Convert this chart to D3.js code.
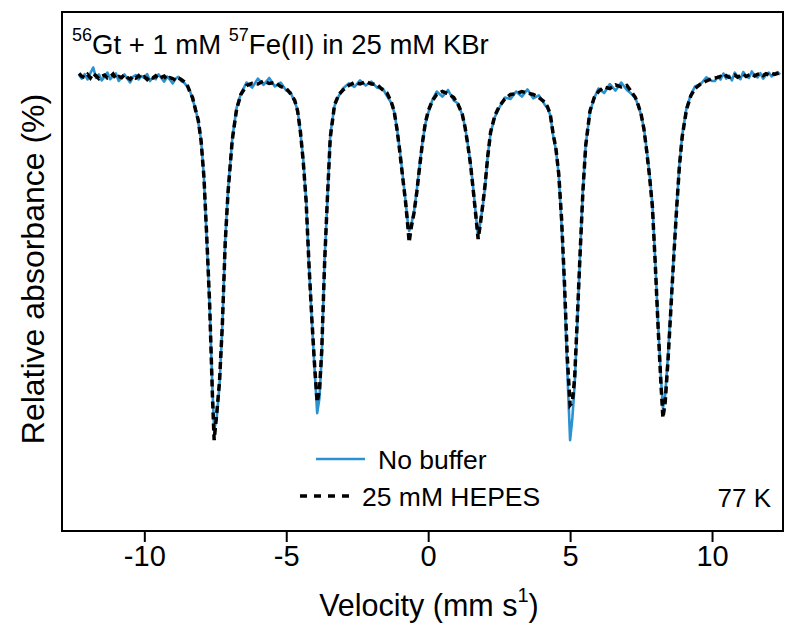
<!DOCTYPE html>
<html>
<head>
<meta charset="utf-8">
<script src="https://cdn.jsdelivr.net/npm/d3@7"></script>
<style>
  body { margin: 0; background: #fff; }
  svg text { font-family: "Liberation Sans", Arial, sans-serif; fill: #000; }
</style>
</head>
<body>
<div id="chart-mount"></div>
<script>
var WIDTH = 786;
var HEIGHT = 625;
var FRAME = { left: 62, right: 783, top: 12, bottom: 531 };
var BLUE = '#2a92d0';

// velocity channels (mm/s)
var velocity = [
  -12.3, -12.2, -12.1, -12.0, -11.9, -11.8, -11.7, -11.6, -11.5, -11.4, -11.3, -11.2, -11.1,
  -11.0, -10.9, -10.8, -10.7, -10.6, -10.5, -10.4, -10.3, -10.2, -10.1, -10.0, -9.9, -9.8,
  -9.7, -9.6, -9.5, -9.4, -9.3, -9.2, -9.1, -9.0, -8.9, -8.8, -8.7, -8.6,
  // line 1
  -8.5, -8.4, -8.3, -8.2, -8.1, -8.0, -7.9, -7.8, -7.7, -7.6, -7.54, -7.45, -7.35, -7.25, -7.15, -7.05, -6.9, -6.75, -6.6,
  -6.4, -6.2, -6.0, -5.8, -5.6, -5.4, -5.2, -5.0, -4.85,
  // line 2
  -4.7, -4.6, -4.5, -4.4, -4.3, -4.2, -4.1, -4.0, -3.91, -3.83, -3.75, -3.65, -3.55, -3.45, -3.3, -3.15,
  -3.0, -2.8, -2.6, -2.4, -2.2, -2.0, -1.8, -1.6, -1.45,
  // line 3
  -1.3, -1.2, -1.1, -1.0, -0.9, -0.8, -0.72, -0.67, -0.6, -0.5, -0.4, -0.3, -0.2, -0.1, 0.0, 0.15,
  0.3, 0.5, 0.7, 0.9, 1.05,
  // line 4
  1.2, 1.3, 1.4, 1.5, 1.6, 1.68, 1.76, 1.84, 1.92, 2.0, 2.1, 2.2, 2.35, 2.5,
  2.7, 2.9, 3.1, 3.3, 3.5, 3.7, 3.9, 4.1,
  // line 5
  4.2, 4.3, 4.4, 4.5, 4.6, 4.7, 4.8, 4.9, 5.0, 5.08, 5.16, 5.25, 5.35, 5.45, 5.55, 5.7, 5.85,
  6.0, 6.2, 6.4, 6.6, 6.8, 7.0, 7.15,
  // line 6
  7.3, 7.4, 7.5, 7.6, 7.7, 7.8, 7.9, 8.0, 8.1, 8.2, 8.27, 8.35, 8.45, 8.55, 8.65, 8.75, 8.85, 8.95, 9.1, 9.25, 9.4, 9.6, 9.8, 10.0,
  10.1, 10.2, 10.3, 10.4, 10.5, 10.6, 10.7, 10.8, 10.9, 11.0, 11.1, 11.2,
  11.3, 11.4, 11.5, 11.6, 11.7, 11.8, 11.9, 12.0, 12.1, 12.2, 12.3, 12.4
];

// relative absorbance (%), no buffer
var noBuffer = [
  0.00, -0.12, 0.03, -0.15, 0.06, 0.25, -0.10, 0.02, -0.18, -0.05, 0.08, -0.14, -0.03,
  0.05, -0.20, -0.08, 0.02, -0.12, -0.25, -0.06, 0.00, -0.15, -0.04, -0.10, 0.03, -0.20,
  -0.08, -0.14, 0.02, -0.10, -0.22, -0.05, -0.15, -0.28, -0.12, -0.06, -0.20, -0.25,
  -0.37, -0.5, -0.83, -1.1, -1.57, -2.17, -3.43, -5.5, -7.67, -10.5, -11.83, -11.43, -10.33, -8.33, -5.5, -3.83, -2.1, -1.1, -0.63,
  -0.25, -0.42, -0.12, -0.33, -0.1, -0.38, -0.25, -0.52, -0.58,
  -0.9, -1.17, -1.93, -2.83, -4.17, -6.33, -8.17, -9.83, -11.27, -10.77, -9.33, -6.17, -4.17, -2.0, -1.03, -0.7,
  -0.45, -0.28, -0.4, -0.18, -0.35, -0.22, -0.42, -0.45, -0.7,
  -0.93, -1.23, -1.77, -2.5, -3.33, -4.17, -4.9, -5.2, -5.0, -4.57, -3.83, -3.0, -2.23, -1.63, -1.27, -0.83,
  -0.55, -0.72, -0.5, -0.85, -0.95,
  -1.33, -1.73, -2.33, -3.0, -3.9, -4.67, -5.4, -4.9, -4.4, -3.77, -2.67, -1.93, -1.4, -1.1,
  -0.75, -0.8, -0.55, -0.72, -0.48, -0.78, -0.68, -0.98,
  -1.1, -1.33, -2.0, -2.5, -3.33, -5.0, -7.17, -9.83, -12.17, -11.43, -10.33, -8.33, -6.0, -3.83, -2.33, -1.23, -0.77,
  -0.45, -0.6, -0.3, -0.52, -0.25, -0.5, -0.62,
  -0.77, -1.03, -1.33, -1.77, -2.5, -3.33, -4.33, -6.23, -8.33, -10.1, -11.1, -10.67, -9.33, -7.67, -6.0, -4.43, -3.0, -2.0, -1.1, -0.67, -0.38, -0.3, -0.08, -0.2,
  -0.2, -0.05, -0.15, 0.05, -0.12, -0.02, -0.18, 0.08, -0.06, -0.14, 0.1, -0.04,
  -0.1, 0.12, -0.02, -0.08, 0.06, -0.12, 0.0, 0.08, -0.05, 0.04, 0.1, 0.02
];

// relative absorbance (%), 25 mM HEPES
var hepes = [
  0.05, -0.05, -0.08, 0.02, -0.10, 0.05, -0.03, -0.12, -0.04, 0.00, -0.10, -0.06, 0.03,
  -0.12, -0.05, -0.09, 0.01, -0.08, -0.14, -0.04, -0.10, -0.02, -0.12, -0.06, -0.15, -0.05,
  -0.10, -0.03, -0.13, -0.08, -0.04, -0.15, -0.09, -0.12, -0.18, -0.10, -0.15, -0.22,
  -0.3, -0.55, -0.75, -1.15, -1.5, -2.2, -3.4, -5.4, -7.6, -10.7, -12.17, -11.3, -10.2, -8.3, -5.6, -3.9, -2.15, -1.15, -0.65,
  -0.35, -0.28, -0.3, -0.2, -0.28, -0.25, -0.38, -0.45, -0.62,
  -0.85, -1.2, -1.9, -2.9, -4.2, -6.3, -8.1, -9.7, -10.9, -10.5, -9.2, -6.3, -4.1, -2.1, -1.0, -0.65,
  -0.5, -0.35, -0.25, -0.3, -0.22, -0.3, -0.32, -0.5, -0.6,
  -0.9, -1.2, -1.8, -2.55, -3.4, -4.2, -5.0, -5.57, -5.1, -4.6, -3.9, -3.05, -2.25, -1.6, -1.2, -0.85,
  -0.65, -0.55, -0.62, -0.75, -0.98,
  -1.3, -1.75, -2.35, -3.05, -3.95, -4.7, -5.47, -4.95, -4.35, -3.7, -2.7, -1.9, -1.35, -1.05,
  -0.8, -0.65, -0.62, -0.55, -0.6, -0.65, -0.75, -0.9,
  -1.05, -1.3, -1.95, -2.45, -3.3, -4.8, -6.9, -9.4, -11.0, -10.9, -10.1, -8.2, -6.0, -3.9, -2.35, -1.2, -0.75,
  -0.55, -0.4, -0.45, -0.33, -0.4, -0.35, -0.55,
  -0.75, -1.0, -1.3, -1.8, -2.55, -3.4, -4.4, -6.3, -8.4, -10.3, -11.43, -10.9, -9.5, -7.8, -6.1, -4.5, -3.05, -2.05, -1.15, -0.7, -0.45, -0.3, -0.2, -0.12,
  -0.1, -0.08, -0.05, -0.1, -0.02, -0.08, -0.04, 0.0, -0.07, -0.02, 0.03, -0.05,
  0.0, 0.04, -0.03, 0.02, 0.05, -0.02, 0.04, 0.0, 0.06, 0.02, 0.05, 0.07
];

var xTicks = [-10, -5, 0, 5, 10];
var xDomain = [-12.9, 12.5];
var yDomain = [-15.2, 2.1];

var $svg = d3.select('#chart-mount').append('svg')
  .attr('width', WIDTH)
  .attr('height', HEIGHT);

var x = d3.scaleLinear().domain(xDomain).range([FRAME.left, FRAME.right]);
var y = d3.scaleLinear().domain(yDomain).range([FRAME.bottom, FRAME.top]);

var line = d3.line()
  .x(function (d) { return x(d[0]); })
  .y(function (d) { return y(d[1]); });

function seriesPoints (values) {
  return velocity.map(function (v, i) { return [v, values[i]]; });
}

function drawSpectra () {
  $svg.append('path')
    .datum(seriesPoints(noBuffer))
    .attr('d', line)
    .attr('fill', 'none')
    .attr('stroke', BLUE)
    .attr('stroke-width', 2.6)
    .attr('stroke-linejoin', 'round');

  $svg.append('path')
    .datum(seriesPoints(hepes))
    .attr('d', line)
    .attr('fill', 'none')
    .attr('stroke', '#000')
    .attr('stroke-width', 3.5)
    .attr('stroke-dasharray', '7,4');
}

function drawAxes () {
  $svg.append('rect')
    .attr('x', FRAME.left)
    .attr('y', FRAME.top)
    .attr('width', FRAME.right - FRAME.left)
    .attr('height', FRAME.bottom - FRAME.top)
    .attr('fill', 'none')
    .attr('stroke', '#000')
    .attr('stroke-width', 2);

  var axis = $svg.append('g')
    .attr('transform', 'translate(0,' + FRAME.bottom + ')')
    .call(d3.axisBottom(x)
      .tickValues(xTicks)
      .tickSize(11)
      .tickPadding(3)
      .tickFormat(function (d) { return String(d); }));
  axis.select('.domain').remove();
  axis.selectAll('line').attr('stroke', '#000').attr('stroke-width', 2);
  axis.selectAll('text')
    .attr('font-size', 29)
    .attr('font-family', '"Liberation Sans", Arial, sans-serif')
    .attr('fill', '#000');

  var xl = $svg.append('text')
    .attr('x', 429)
    .attr('y', 616)
    .attr('text-anchor', 'middle')
    .attr('font-size', 30.5);
  xl.append('tspan').text('Velocity (mm s');
  xl.append('tspan').attr('font-size', 20).attr('dy', -14).text('1');
  xl.append('tspan').attr('dy', 14).text(')');

  $svg.append('text')
    .attr('transform', 'translate(44,' + 269 + ') rotate(-90)')
    .attr('text-anchor', 'middle')
    .attr('font-size', 32)
    .text('Relative absorbance (%)');
}

function drawLabels () {
  var t = $svg.append('text')
    .attr('x', 72)
    .attr('y', 54)
    .attr('font-size', 27.5);
  t.append('tspan').attr('font-size', 18).attr('dy', -13).text('56');
  t.append('tspan').attr('dy', 13).text('Gt + 1 mM ');
  t.append('tspan').attr('font-size', 18).attr('dy', -13).text('57');
  t.append('tspan').attr('dy', 13).text('Fe(II) in 25 mM KBr');

  $svg.append('line')
    .attr('x1', 316).attr('x2', 365)
    .attr('y1', 459).attr('y2', 459)
    .attr('stroke', BLUE)
    .attr('stroke-width', 2.6);
  $svg.append('text')
    .attr('x', 378).attr('y', 469)
    .attr('font-size', 26.5)
    .text('No buffer');

  $svg.append('line')
    .attr('x1', 300).attr('x2', 350)
    .attr('y1', 496).attr('y2', 496)
    .attr('stroke', '#000')
    .attr('stroke-width', 3.5)
    .attr('stroke-dasharray', '7,7');
  $svg.append('text')
    .attr('x', 362).attr('y', 506)
    .attr('font-size', 26.5)
    .text('25 mM HEPES');

  $svg.append('text')
    .attr('x', 771).attr('y', 507)
    .attr('text-anchor', 'end')
    .attr('font-size', 26)
    .text('77 K');
}

drawSpectra();
drawAxes();
drawLabels();
</script>
</body>
</html>
